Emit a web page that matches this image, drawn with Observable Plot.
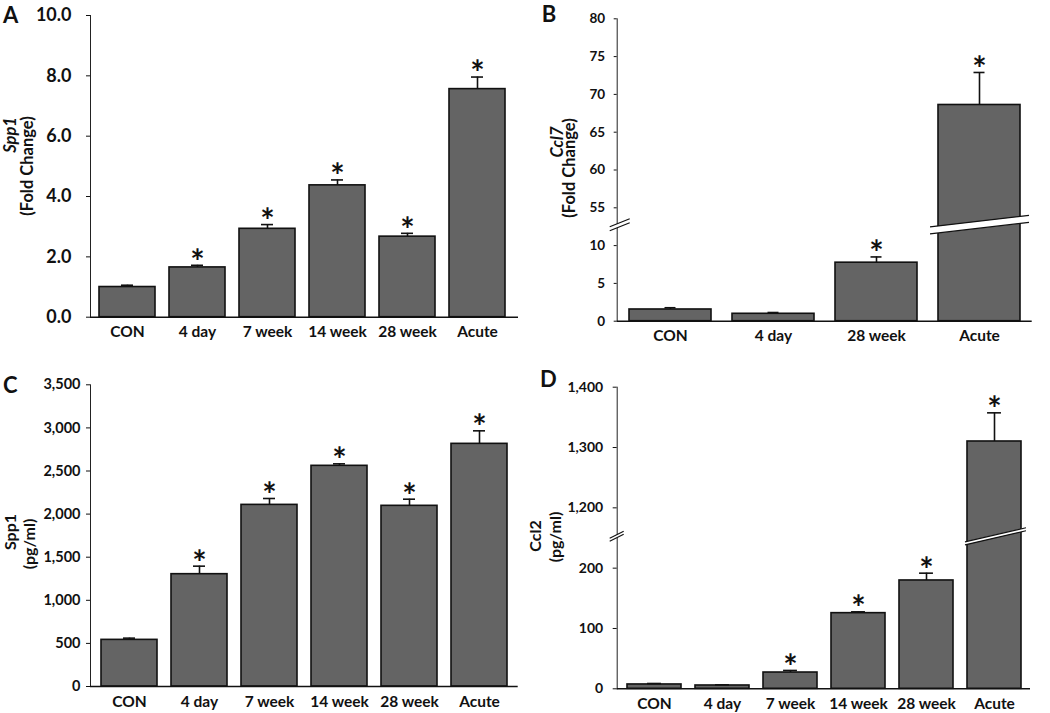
<!DOCTYPE html>
<html><head><meta charset="utf-8">
<script src="https://cdn.jsdelivr.net/npm/d3@7"></script>
<script src="https://cdn.jsdelivr.net/npm/@observablehq/plot@0.6"></script>
<style>
body{margin:0;background:#fff;}
#wrap{position:relative;width:1050px;height:713px;overflow:hidden;background:#fff}
#wrap svg{position:absolute;overflow:visible}
</style></head><body><div id="wrap"></div>
<script>
// ---------- data ----------
const catsA = ["CON","4 day","7 week","14 week","28 week","Acute"];
const valsA = [1.0, 1.65, 2.93, 4.37, 2.67, 7.56];
const errA  = [0.06, 0.07, 0.14, 0.18, 0.11, 0.40];
const sigA  = [false, true, true, true, true, true];
const ticksA = [0, 2, 4, 6, 8, 10];
const titleA = ["Spp1", "(Fold Change)"];

const catsB = ["CON","4 day","28 week","Acute"];
const valsB = [1.55, 0.98, 7.74, 68.6];
const errB  = [0.23, 0.17, 0.76, 4.3];
const sigB  = [false, false, true, true];
const ticksB = [0, 5, 10, 55, 60, 65, 70, 75, 80];
const gapB = [10, 55];
const titleB = ["Ccl7", "(Fold Change)"];

const catsC = ["CON","4 day","7 week","14 week","28 week","Acute"];
const valsC = [541, 1303, 2107, 2560, 2096, 2815];
const errC  = [20, 93, 74, 23, 77, 151];
const sigC  = [false, true, true, true, true, true];
const ticksC = [0, 500, 1000, 1500, 2000, 2500, 3000, 3500];
const titleC = ["Spp1", "(pg/ml)"];

const catsD = ["CON","4 day","7 week","14 week","28 week","Acute"];
const valsD = [7.2, 5.5, 27, 125.4, 179.6, 1310];
const errD  = [1.6, 1.1, 3.4, 2.2, 12.1, 47.5];
const sigD  = [false, false, true, true, true, true];
const ticksD = [0, 100, 200, 1200, 1300, 1400];
const gapD = [200, 1200];
const titleD = ["Ccl2", "(pg/ml)"];

// ---------- layout ----------
const FONT = "Lato, 'Open Sans', sans-serif";
const panels = [
  {letter:"A", letterPos:[3,23], left:0, top:0, width:525, height:345, margin:[15,7,28.3,90], po:0.157, align:0.41,
   cats:catsA, vals:valsA, errs:errA, sig:sigA, ticks:ticksA, fmt:d3.format(".1f"),
   tickFont:18, tickSize:4, tickPad:15, cap:12, title:titleA, titleItalic:true,
   titlePos:[[10,135],[27,166]], titleFont:16.5},
  {letter:"B", letterPos:[16.7,22], left:525, top:0, width:525, height:345, margin:[18.3,18.3,24.3,91.7], po:0.1, align:0.51,
   cats:catsB, vals:valsB, errs:errB, sig:sigB, ticks:ticksB, gap:gapB, fmt:d3.format("d"),
   tickFont:13.5, tickSize:3, tickPad:9, cap:12, title:titleB, titleItalic:true,
   titlePos:[[32.5,142],[44.5,168]], titleFont:16.5,
   brkFrac:0.54, axisBreak:{l:7, r:13, slope:0.4, gap:4}, barBreak:{l:8, r:9, slope:0.116, gap:7}},
  {letter:"C", letterPos:[3,48], left:0, top:345, width:525, height:368, margin:[39.3,7.3,27,90], po:0.155, align:0.49,
   cats:catsC, vals:valsC, errs:errC, sig:sigC, ticks:ticksC, fmt:d3.format(","),
   tickFont:14.5, tickSize:4, tickPad:6, cap:12, title:titleC, titleItalic:false,
   titlePos:[[10,187],[29,199]], titleFont:16},
  {letter:"D", letterPos:[15,42], left:525, top:345, width:525, height:368, margin:[41.7,20,24.7,91.7], po:0.1, align:0.54,
   cats:catsD, vals:valsD, errs:errD, sig:sigD, ticks:ticksD, gap:gapD, fmt:d3.format(","),
   tickFont:14, tickSize:4, tickPad:10, cap:15, title:titleD, titleItalic:false,
   titlePos:[[10,191],[30,192]], titleFont:16,
   brkFrac:0.52, axisBreak:{l:7, r:7, slope:0.5, gap:3}, barBreak:{l:2, r:5, slope:0.23, gap:3}}
];

function drawBreak(g, x0, x1, yc, slope, gap) {
  const xc = (x0 + x1) / 2;
  const y = x => yc - slope * (x - xc);
  g.append("path")
    .attr("d", `M${x0},${y(x0)-gap/2}L${x1},${y(x1)-gap/2}L${x1},${y(x1)+gap/2}L${x0},${y(x0)+gap/2}Z`)
    .attr("fill", "#fff");
  for (const s of [-1, 1]) {
    g.append("line")
      .attr("x1", x0).attr("y1", y(x0) + s*gap/2)
      .attr("x2", x1).attr("y2", y(x1) + s*gap/2)
      .attr("stroke", "#111").attr("stroke-width", 1.2);
  }
}

const wrap = document.getElementById("wrap");
for (const p of panels) {
  const [mt, mr, mb, ml] = p.margin;
  const step = p.gap ? p.ticks[1] - p.ticks[0] : 0;
  const shift = p.gap ? (p.gap[1] - p.gap[0] - step) : 0;
  const tf = v => (p.gap && v >= p.gap[1]) ? v - shift : v;
  const rows = p.cats.map((c, i) => ({c, v: tf(p.vals[i]), e: tf(p.vals[i] + p.errs[i]), s: p.sig[i], raw: p.vals[i]}));
  const tpos = p.ticks.map(tf);
  const lab = new Map(tpos.map((t, i) => [t, p.fmt(p.ticks[i])]));
  const n = p.cats.length;
  const bstep = (p.width - ml - mr) / (n - 0.2 + 2 * p.po);
  const capInset = (bstep * 0.8 - p.cap) / 2;

  const plot = Plot.plot({
    width: p.width, height: p.height,
    marginTop: mt, marginRight: mr, marginBottom: mb, marginLeft: ml,
    style: {fontFamily: FONT, fontWeight: "bold", background: "transparent", color: "#111"},
    x: {domain: p.cats, paddingInner: 0.2, paddingOuter: p.po, align: p.align, label: null, axis: null},
    y: {domain: [0, d3.max(tpos)], label: null, axis: null},
    marks: [
      Plot.barY(rows, {x: "c", y1: 0, y2: "v", fill: "#646464", stroke: "#111", strokeWidth: 1.6}),
      Plot.ruleX(rows, {x: "c", y1: "v", y2: "e", stroke: "#111", strokeWidth: 1.6}),
      Plot.tickY(rows, {x: "c", y: "e", stroke: "#111", strokeWidth: 1.6, insetLeft: capInset, insetRight: capInset}),
      Plot.text(rows.filter(d => d.s), {x: "c", y: "e", text: d => "*", fontSize: 34, lineAnchor: "middle", dy: -2.5}),
      Plot.axisY({ticks: tpos, tickFormat: d => lab.get(d), tickSize: p.tickSize, tickPadding: p.tickPad, fontSize: p.tickFont}),
      Plot.axisX({tickSize: 0, tickPadding: 9, fontSize: 15.5}),
      Plot.frame({anchor: "left", stroke: "#222"}),
      Plot.ruleY([0], {stroke: "#111", strokeWidth: 1.6})
    ]
  });
  plot.style.left = p.left + "px";
  plot.style.top = p.top + "px";
  wrap.appendChild(plot);

  const svg = d3.select(plot);
  const g = svg.append("g");
  const xs = plot.scale("x"), ys = plot.scale("y");
  if (p.gap) {
    const yb = ys.apply(p.gap[0] + step * p.brkFrac);
    const ab = p.axisBreak;
    drawBreak(g, ml - ab.l, ml + ab.r, yb, ab.slope, ab.gap);
    const bb = p.barBreak;
    rows.forEach(r => {
      if (r.raw > p.gap[1]) {
        const x0 = xs.apply(r.c), x1 = x0 + xs.bandwidth;
        drawBreak(g, x0 - bb.l, x1 + bb.r, yb, bb.slope, bb.gap);
      }
    });
  }
  // axis titles
  p.title.forEach((t, i) => {
    const [tx, ty] = p.titlePos[i];
    g.append("text").text(t)
      .attr("transform", `translate(${tx},${ty}) rotate(-90)`)
      .attr("text-anchor", "middle").attr("dy", "0.35em")
      .attr("font-size", p.titleFont)
      .attr("font-style", (i === 0 && p.titleItalic) ? "italic" : "normal")
      .attr("fill", "#111");
  });
  // panel letter
  g.append("text").text(p.letter)
    .attr("x", p.letterPos[0]).attr("y", p.letterPos[1])
    .attr("text-anchor", "start")
    .attr("font-size", 22).attr("fill", "#111");
}
</script>
</body></html>
